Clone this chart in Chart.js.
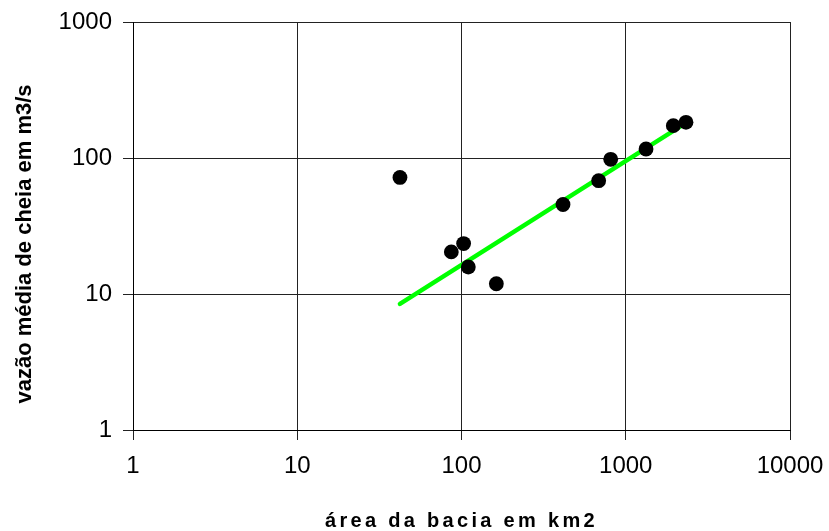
<!DOCTYPE html>
<html>
<head>
<meta charset="utf-8">
<script src="https://cdn.jsdelivr.net/npm/chart.js@4/dist/chart.umd.min.js"></script>
<style>
  html, body { margin: 0; padding: 0; background: #fff; }
  #wrap { width: 829px; height: 531px; }
</style>
</head>
<body>
<div id="wrap"><canvas id="chart"></canvas></div>
<script>
// area of the basin (km2) and mean flood discharge (m3/s)
const areaKm2 = [42.2, 86.7, 103, 110, 163, 415, 684, 810, 1329, 1948, 2327];
const floodFlow = [72.0, 20.4, 23.5, 15.8, 11.9, 45.5, 68.1, 97.8, 116.5, 173, 183];

// power trend line, start and end as seen in the picture
const trendX = [42.2, 2327];
const trendY = [8.45, 181];

// tick labels of both axes
const xTicks = [1, 10, 100, 1000, 10000];
const yTicks = [1, 10, 100, 1000];

const FONT = "'Liberation Sans', Arial, sans-serif";

// x title gets wide letter spacing, y title sits a bit below the plot centre
const titleTweaks = {
  id: "titleTweaks",
  beforeDraw(chart) {
    const c = chart.ctx;
    const x = chart.scales.x;
    const y = chart.scales.y;
    if (!x._tweaked) {
      const drawX = x.drawTitle;
      x.drawTitle = function () {
        c.letterSpacing = "3.3px";
        drawX.call(this);
        c.letterSpacing = "0px";
      };
      x._tweaked = true;
    }
    if (!y._tweaked) {
      const drawY = y.drawTitle;
      y.drawTitle = function () {
        c.save();
        c.translate(0, 18);
        drawY.call(this);
        c.restore();
      };
      y._tweaked = true;
    }
  }
};

const ctx = document.getElementById("chart").getContext("2d");

const myChart = new Chart(ctx, {
  type: "scatter",
  data: {
    datasets: [
      {
        label: "vazão",
        data: areaKm2.map((x, i) => ({ x: x, y: floodFlow[i] })),
        backgroundColor: "#000",
        borderWidth: 0,
        pointRadius: 7.4,
        pointHoverRadius: 7.4
      },
      {
        label: "tendência",
        type: "line",
        data: trendX.map((x, i) => ({ x: x, y: trendY[i] })),
        borderColor: "#00ff00",
        borderWidth: 4.5,
        borderCapStyle: "round",
        pointRadius: 0,
        fill: false
      }
    ]
  },
  options: {
    responsive: true,
    maintainAspectRatio: false,
    animation: false,
    layout: { padding: { left: 0, right: 39, top: 22, bottom: 0 } },
    plugins: {
      legend: { display: false },
      tooltip: { enabled: false }
    },
    scales: {
      x: {
        type: "logarithmic",
        min: 1,
        max: 10000,
        afterBuildTicks: (scale) => { scale.ticks = xTicks.map(v => ({ value: v })); },
        afterFit: (scale) => {
          // fixed box, the layout padding leaves room for the end labels
          scale.height = 101;
          scale.paddingLeft = 0;
          scale.paddingRight = 0;
        },
        grid: { color: "#222", lineWidth: 1, tickLength: 10, drawTicks: true },
        border: { color: "#000", width: 1 },
        ticks: {
          padding: 12,
          color: "#000",
          font: { family: FONT, size: 24 },
          maxRotation: 0,
          callback: (v) => String(v)
        },
        title: {
          display: true,
          text: "área da bacia em km2",
          color: "#000",
          font: { family: FONT, size: 20, weight: "bold", lineHeight: 1 },
          padding: { top: 0, bottom: 0 }
        }
      },
      y: {
        type: "logarithmic",
        min: 1,
        max: 1000,
        afterBuildTicks: (scale) => { scale.ticks = yTicks.map(v => ({ value: v })); },
        afterFit: (scale) => {
          scale.width = 133;
          scale.paddingTop = 0;
          scale.paddingBottom = 0;
        },
        grid: { color: "#222", lineWidth: 1, tickLength: 10, drawTicks: true },
        border: { color: "#000", width: 1 },
        ticks: {
          padding: 11,
          color: "#000",
          font: { family: FONT, size: 24 },
          callback: (v) => String(v)
        },
        title: {
          display: true,
          text: "vazão média de cheia em m3/s",
          color: "#000",
          font: { family: FONT, size: 22, weight: "bold", lineHeight: 1 },
          padding: { top: 14, bottom: 0 }
        }
      }
    }
  },
  plugins: [titleTweaks]
});
myChart.draw();
</script>
</body>
</html>
